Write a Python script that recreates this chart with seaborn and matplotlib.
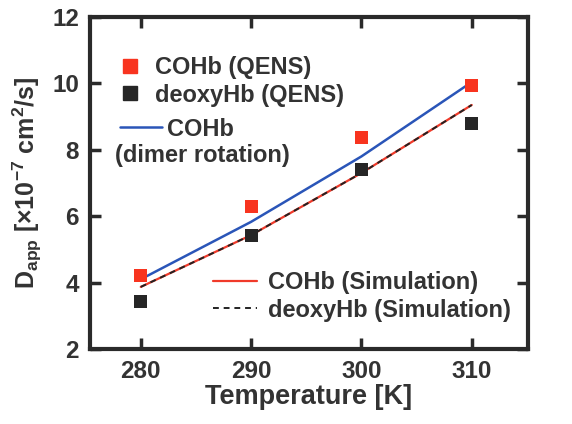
import matplotlib
matplotlib.use("Agg")
import matplotlib.pyplot as plt
import seaborn as sns
import pandas as pd
from matplotlib.lines import Line2D

temps = [280, 290, 300, 310]
cohb_qens = [4.2, 6.28, 8.36, 9.95]
deoxy_qens = [3.42, 5.43, 7.40, 8.78]
cohb_dimer = [4.10, 5.83, 7.80, 10.04]
cohb_sim = [3.87, 5.43, 7.30, 9.35]
deoxy_sim = [3.87, 5.43, 7.30, 9.35]

sns.set_theme(style="ticks")
plt.rcParams['font.family'] = ['Liberation Sans', 'DejaVu Sans']
plt.rcParams['font.weight'] = 'bold'
plt.rcParams['mathtext.fontset'] = 'custom'
plt.rcParams['mathtext.rm'] = 'Liberation Sans:bold'
plt.rcParams['mathtext.it'] = 'Liberation Sans:bold'
plt.rcParams['mathtext.bf'] = 'Liberation Sans:bold'
plt.rcParams['mathtext.default'] = 'rm'

txt = '#333333'
red = '#f8341f'
blue = '#2a55b8'
dark = '#262626'
fig = plt.figure(figsize=(5.72, 4.24), dpi=100)
ax = fig.add_axes([90/572, 1-349/424, (528-90)/572, (349-17)/424])

df = pd.DataFrame({'T': temps, 'cq': cohb_qens, 'dq': deoxy_qens,
                   'cd': cohb_dimer, 'cs': cohb_sim, 'ds': deoxy_sim})

sns.lineplot(data=df, x='T', y='cd', ax=ax, color=blue, lw=1.8)
sns.lineplot(data=df, x='T', y='cs', ax=ax, color='#f03a2a', lw=1.6)
sns.lineplot(data=df, x='T', y='ds', ax=ax, color='#222222', lw=1.4, linestyle=(0, (3, 2.5)))
sns.scatterplot(data=df, x='T', y='cq', ax=ax, color=red, marker='s', s=88, edgecolor='none', zorder=5)
sns.scatterplot(data=df, x='T', y='dq', ax=ax, color=dark, marker='s', s=88, edgecolor='none', zorder=5)

ax.set_xlim(275.4, 315.1)
ax.set_ylim(2, 12)
ax.set_xticks(temps)
ax.set_yticks([2, 4, 6, 8, 10, 12])
ax.tick_params(direction='in', length=8, width=2.5, top=True, right=True,
               labelsize=17.5, colors='#2a2a2a', pad=8)
for lab in ax.get_xticklabels() + ax.get_yticklabels():
    lab.set_color(txt)
    lab.set_fontweight('bold')
for sp in ax.spines.values():
    sp.set_linewidth(3)
    sp.set_color('#2a2a2a')

ax.set_xlabel('Temperature [K]', fontsize=19.5, fontweight='bold', color=txt, labelpad=1)
ax.set_ylabel(r'D$_{app}$ [$\times$10$^{-7}$ cm$^{2}$/s]', fontsize=18, fontweight='bold', color=txt, labelpad=6)

prop = {'weight': 'bold', 'size': 17}

h1 = [Line2D([], [], marker='s', color=red, ls='none', ms=9.5),
      Line2D([], [], marker='s', color=dark, ls='none', ms=9.5)]
leg1 = ax.legend(h1, ['COHb (QENS)', 'deoxyHb (QENS)'],
                 loc='upper left', bbox_to_anchor=(0.068, 0.883), frameon=False,
                 borderpad=0, borderaxespad=0, handlelength=0.85, handletextpad=0.65,
                 labelspacing=0.2, prop=prop)
for t in leg1.get_texts():
    t.set_color(txt)
ax.add_artist(leg1)

h3 = [Line2D([], [], color=blue, lw=1.8)]
leg3 = ax.legend(h3, ['COHb'], loc='upper left', bbox_to_anchor=(0.068, 0.697),
                 frameon=False, borderpad=0, borderaxespad=0, handlelength=1.8,
                 handletextpad=0.2, prop=prop)
for t in leg3.get_texts():
    t.set_color(txt)
ax.add_artist(leg3)
ax.text(0.057, 0.584, '(dimer rotation)', transform=ax.transAxes, ha='left', va='center',
        fontsize=17, fontweight='bold', color=txt)

h2 = [Line2D([], [], color='#f03a2a', lw=1.6),
      Line2D([], [], color='#222222', lw=1.4, ls=(0, (3, 2.5)))]
leg2 = ax.legend(h2, ['COHb (Simulation)', 'deoxyHb (Simulation)'],
                 loc='upper left', bbox_to_anchor=(0.281, 0.235), frameon=False,
                 borderpad=0, borderaxespad=0, handlelength=1.86, handletextpad=0.47,
                 labelspacing=0.2, prop=prop)
for t in leg2.get_texts():
    t.set_color(txt)

fig.savefig('out.png', dpi=100)
